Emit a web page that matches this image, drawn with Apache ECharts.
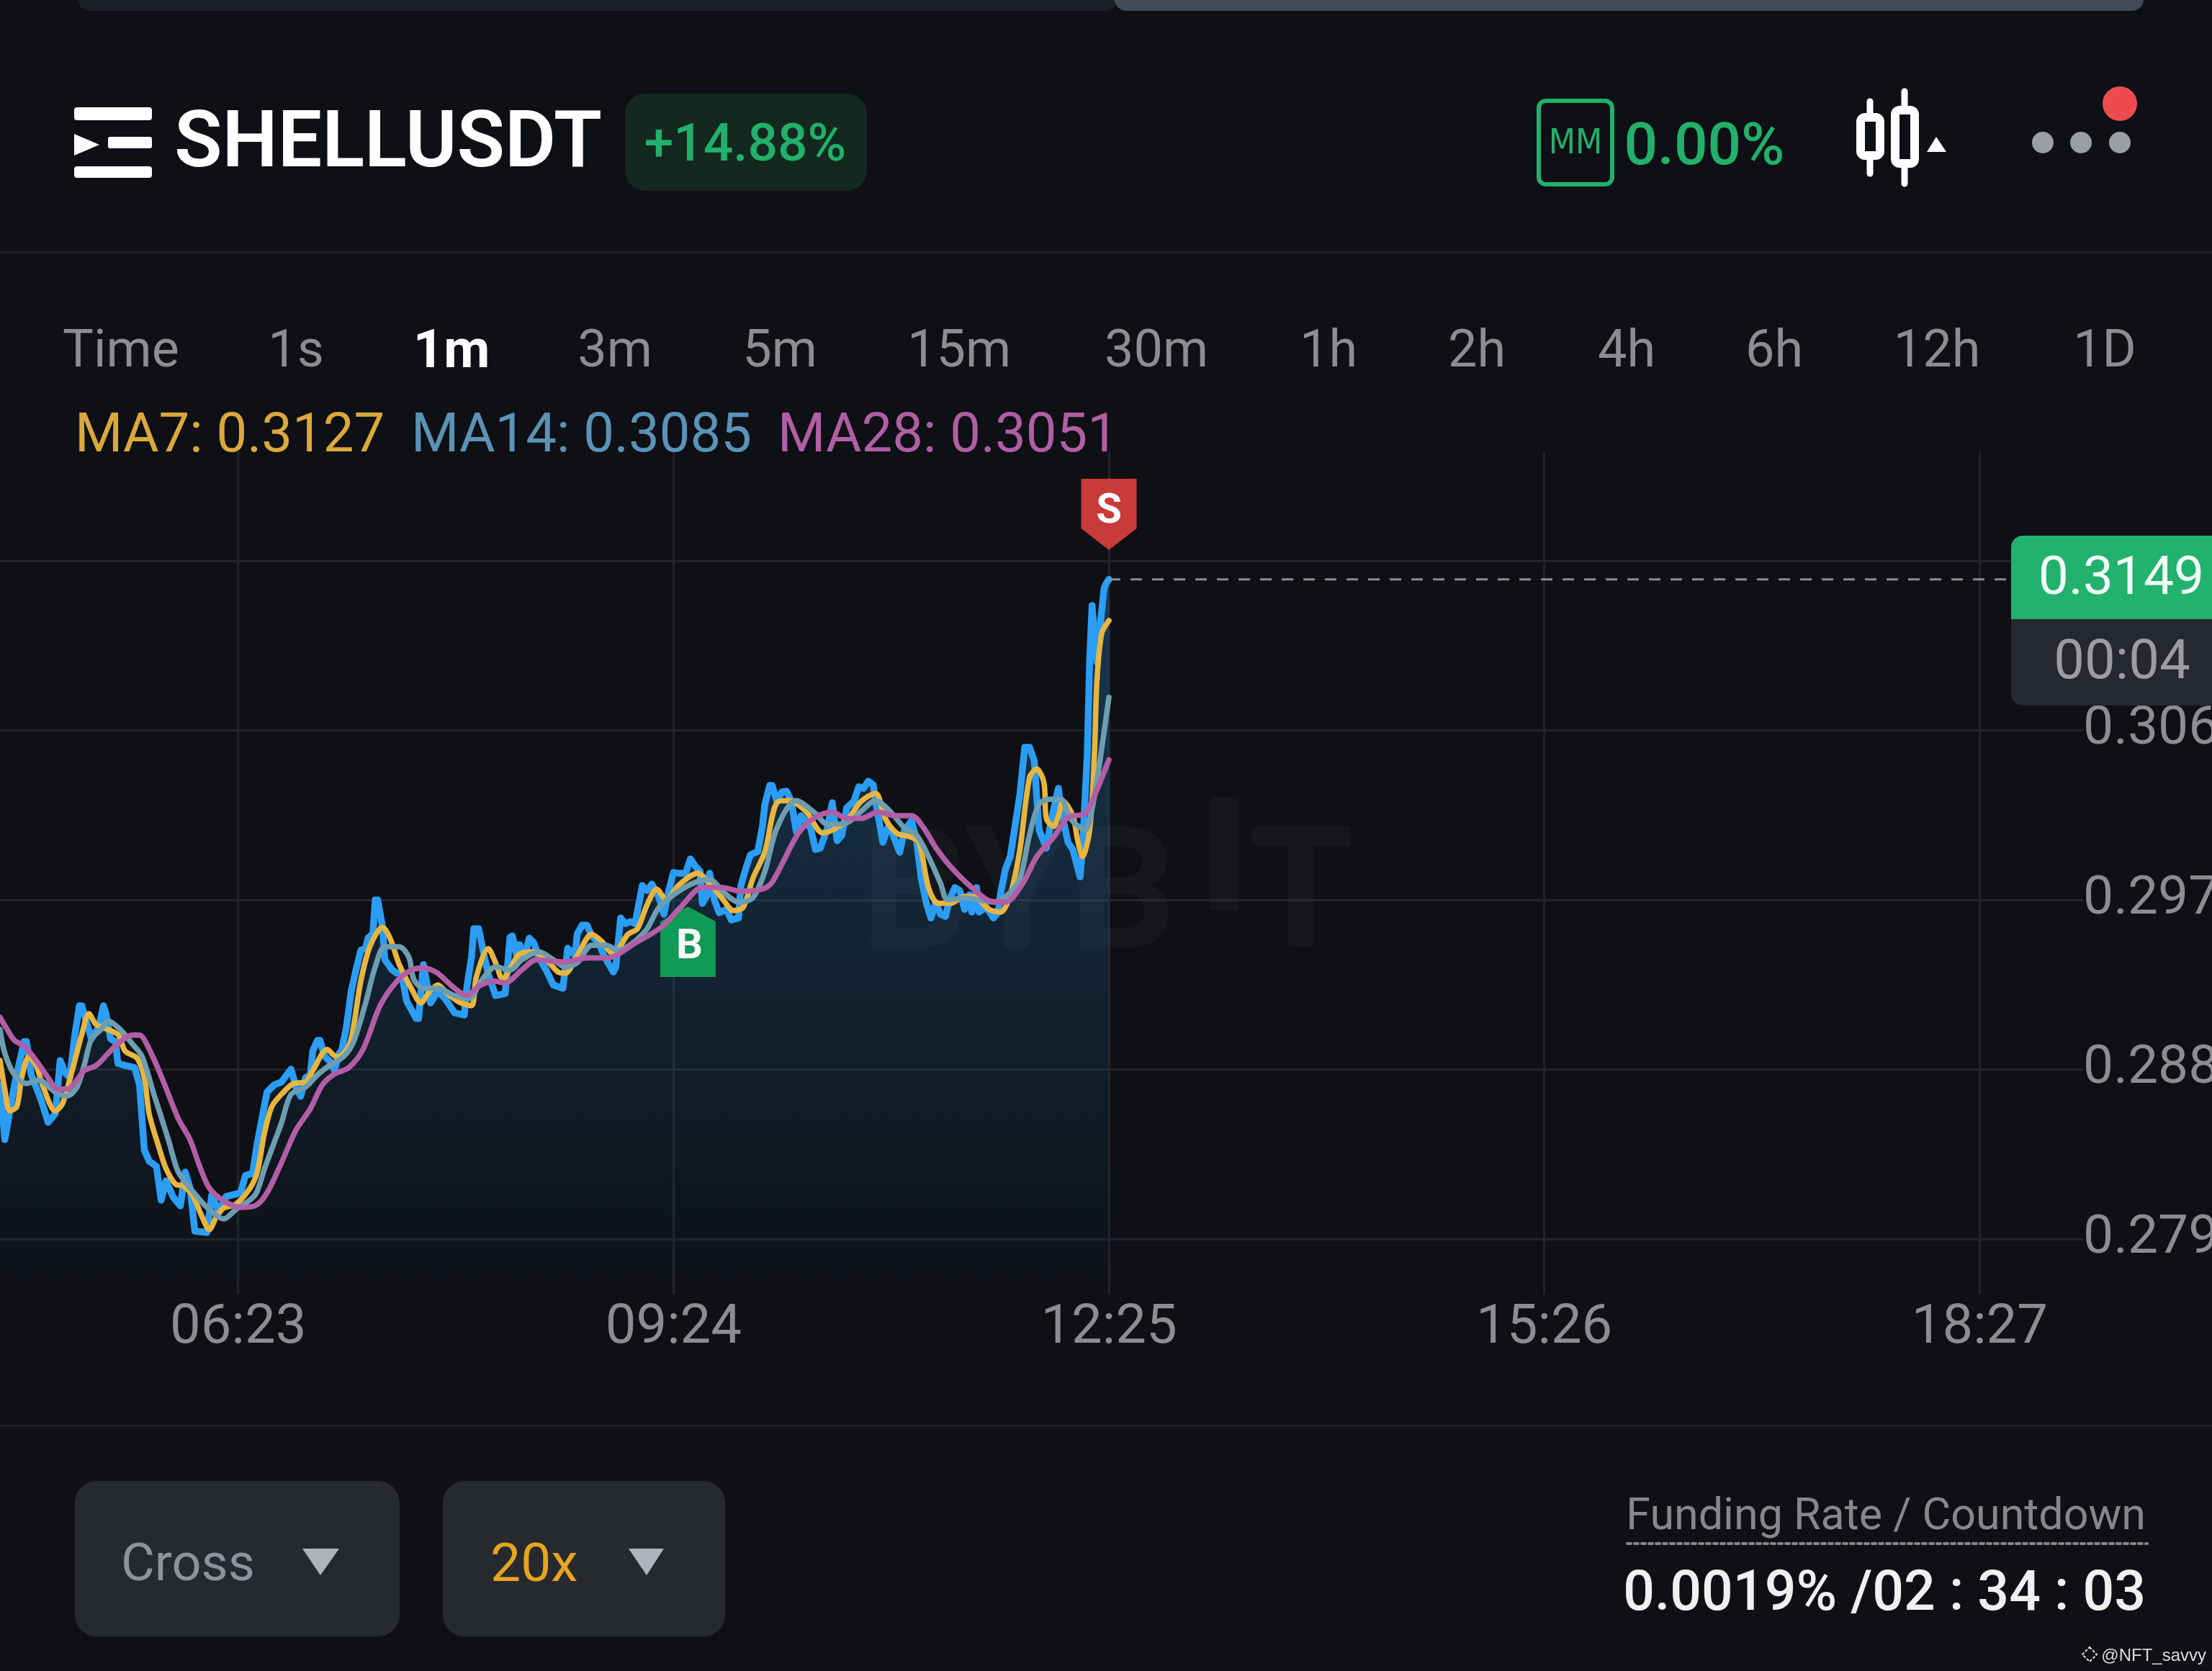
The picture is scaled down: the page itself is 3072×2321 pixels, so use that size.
<!DOCTYPE html>
<html><head><meta charset="utf-8">
<style>html,body{margin:0;padding:0;background:#0e1015}#c{width:3072px;height:2321px}</style>
<script src="https://cdn.jsdelivr.net/npm/echarts@6/dist/echarts.min.js"></script>
</head><body><div id="c"></div>
<script>
// ---- chart values (minute offset from 04:44, and price) ----
const xTickLabels = ['06:23','09:24','12:25','15:26','18:27'];
const yTicks = [0.2791,0.2883,0.2975,0.3067,0.3159];
const lastPrice = 0.3149;
const priceT = [0,2,6,10,11,13,15,17,20,23,25,27,29,31,33,34,36,38,41,43,44,46,48,49,52,56,58,60,62,65,67,69,72,75,77,79,81,86,88,91,94,100,102,105,107,111,114,117,121,123,125,127,129,130,132,133,135,138,139,141,142,144,146,148,150,152,153,155,156,157,159,160,163,165,167,169,173,174,176,177,179,182,185,189,193,194,196,197,199,201,203,206,210,212,213,215,216,218,220,222,224,227,230,234,236,239,240,242,244,246,249,251,255,256,258,260,262,264,267,269,271,274,276,278,280,282,285,287,289,291,292,294,295,297,299,302,304,307,308,310,312,315,317,318,320,321,323,325,327,329,331,333,337,339,341,344,346,348,350,352,355,357,359,361,363,364,366,367,369,371,374,376,379,381,383,385,387,389,391,393,395,397,399,401,403,404,406,407,410,413,415,416,418,420,422,424,426,428,430,431,432,435,437,440,441,444,446,449,450,452,453,454,455,456,457,459,460,461];
const priceV = [0.28746,0.28449,0.28746,0.28981,0.28981,0.28801,0.28734,0.28668,0.28543,0.28590,0.28879,0.28813,0.28785,0.29008,0.29176,0.29176,0.29086,0.28996,0.29059,0.29176,0.29137,0.28996,0.28981,0.28863,0.28852,0.28840,0.28746,0.28394,0.28332,0.28305,0.28121,0.28226,0.28137,0.28090,0.28273,0.28187,0.27953,0.27945,0.28148,0.28058,0.28141,0.28160,0.28254,0.28266,0.28434,0.28707,0.28746,0.28762,0.28832,0.28734,0.28684,0.28785,0.28801,0.28930,0.28988,0.28988,0.28902,0.28863,0.28824,0.28918,0.28930,0.29059,0.29254,0.29371,0.29477,0.29488,0.29543,0.29567,0.29750,0.29750,0.29606,0.29426,0.29371,0.29352,0.29348,0.29203,0.29106,0.29106,0.29399,0.29332,0.29191,0.29254,0.29215,0.29137,0.29125,0.29270,0.29438,0.29594,0.29594,0.29465,0.29348,0.29231,0.29242,0.29547,0.29555,0.29438,0.29508,0.29438,0.29543,0.29516,0.29438,0.29371,0.29289,0.29270,0.29488,0.29449,0.29567,0.29613,0.29613,0.29555,0.29516,0.29449,0.29359,0.29387,0.29652,0.29621,0.29633,0.29621,0.29828,0.29801,0.29836,0.29762,0.29672,0.29801,0.29899,0.29895,0.29895,0.29973,0.29934,0.29906,0.29731,0.29778,0.29895,0.29750,0.29680,0.29699,0.29641,0.29652,0.29828,0.29918,0.29996,0.30012,0.30153,0.30270,0.30371,0.30371,0.30285,0.30336,0.30340,0.30285,0.30121,0.30207,0.30141,0.30024,0.30031,0.30141,0.30278,0.30071,0.30102,0.30250,0.30285,0.30364,0.30356,0.30395,0.30375,0.30285,0.30141,0.30063,0.30141,0.30114,0.30008,0.30129,0.30180,0.30074,0.29867,0.29738,0.29652,0.29738,0.29672,0.29660,0.29762,0.29817,0.29801,0.29699,0.29778,0.29684,0.29817,0.29684,0.29711,0.29652,0.29684,0.29789,0.29918,0.29985,0.30153,0.30324,0.30578,0.30578,0.30504,0.30309,0.30129,0.30031,0.30180,0.30356,0.30246,0.30063,0.30024,0.29875,0.30024,0.30543,0.31055,0.31348,0.31196,0.31040,0.31196,0.31442,0.31470,0.31490];
const ma7T = [0,2,4,7,9,12,15,18,23,26,30,34,37,40,49,52,57,60,62,66,69,73,76,80,84,87,90,93,98,104,107,110,113,117,122,127,130,136,140,143,146,150,154,159,162,166,171,175,178,182,186,191,196,198,203,206,209,213,216,222,227,232,235,240,246,250,255,261,265,269,273,277,282,290,295,300,305,309,313,318,323,328,335,342,346,352,358,364,368,373,378,382,386,390,395,401,406,411,416,420,424,428,431,434,435,438,440,442,446,448,450,453,455,456,458,461];
const ma7V = [0.28879,0.28723,0.28605,0.28629,0.28785,0.28898,0.28852,0.28734,0.28605,0.28645,0.28824,0.29020,0.29133,0.29074,0.29020,0.28930,0.28891,0.28785,0.28590,0.28410,0.28293,0.28207,0.28199,0.28148,0.28031,0.27961,0.28031,0.28078,0.28098,0.28187,0.28277,0.28488,0.28629,0.28695,0.28754,0.28762,0.28824,0.28938,0.28898,0.28918,0.28996,0.29309,0.29504,0.29602,0.29547,0.29399,0.29270,0.29191,0.29242,0.29289,0.29242,0.29195,0.29176,0.29332,0.29485,0.29410,0.29320,0.29399,0.29457,0.29469,0.29426,0.29359,0.29352,0.29449,0.29563,0.29527,0.29457,0.29563,0.29594,0.29723,0.29809,0.29750,0.29828,0.29895,0.29840,0.29762,0.29692,0.29711,0.29867,0.30012,0.30278,0.30289,0.30231,0.30114,0.30129,0.30180,0.30285,0.30328,0.30192,0.30110,0.30094,0.30063,0.29817,0.29731,0.29731,0.29770,0.29762,0.29699,0.29684,0.29778,0.30024,0.30414,0.30461,0.30387,0.30192,0.30149,0.30207,0.30285,0.30207,0.30074,0.29985,0.30129,0.30543,0.30934,0.31196,0.31266];
const ma14T = [0,2,6,11,16,23,28,32,35,38,42,45,50,55,59,64,70,74,79,84,88,93,98,106,110,114,117,121,127,132,137,143,147,152,156,160,166,170,172,176,182,189,195,200,206,212,217,224,230,235,240,246,252,257,263,269,274,280,288,295,301,307,313,318,323,331,339,344,352,358,364,370,376,381,386,391,394,401,407,413,419,424,428,432,437,441,445,451,454,457,461];
const ma14V = [0.29047,0.28918,0.28801,0.28754,0.28773,0.28707,0.28687,0.28734,0.28852,0.28996,0.29047,0.29094,0.29047,0.28969,0.28902,0.28695,0.28449,0.28277,0.28187,0.28109,0.28058,0.28019,0.28070,0.28148,0.28293,0.28434,0.28539,0.28695,0.28734,0.28801,0.28852,0.28902,0.28981,0.29191,0.29387,0.29496,0.29496,0.29438,0.29320,0.29270,0.29270,0.29231,0.29215,0.29309,0.29387,0.29369,0.29426,0.29469,0.29426,0.29387,0.29410,0.29504,0.29504,0.29477,0.29516,0.29594,0.29711,0.29778,0.29840,0.29860,0.29789,0.29738,0.29762,0.29906,0.30141,0.30289,0.30219,0.30160,0.30168,0.30231,0.30289,0.30231,0.30141,0.30102,0.29985,0.29840,0.29750,0.29762,0.29750,0.29738,0.29778,0.29867,0.30102,0.30270,0.30297,0.30297,0.30192,0.30129,0.30246,0.30481,0.30850];
const ma28T = [0,3,6,10,15,20,24,28,32,35,40,45,50,55,58,62,68,74,79,83,87,93,100,106,111,117,123,129,134,139,145,151,158,165,171,176,182,188,194,199,205,210,217,223,229,235,244,251,256,264,275,283,292,300,308,317,321,332,339,346,352,358,365,372,379,384,389,395,404,412,418,425,431,438,444,451,456,461];
const ma28V = [0.29113,0.29047,0.28988,0.28957,0.28879,0.28785,0.28723,0.28723,0.28773,0.28824,0.28852,0.28918,0.28981,0.29016,0.29016,0.28941,0.28762,0.28566,0.28449,0.28305,0.28187,0.28117,0.28082,0.28090,0.28160,0.28324,0.28500,0.28617,0.28746,0.28805,0.28840,0.28941,0.29176,0.29309,0.29369,0.29381,0.29352,0.29281,0.29231,0.29281,0.29309,0.29301,0.29371,0.29426,0.29418,0.29414,0.29435,0.29435,0.29449,0.29516,0.29602,0.29711,0.29817,0.29817,0.29797,0.29809,0.29846,0.30114,0.30199,0.30227,0.30192,0.30192,0.30227,0.30207,0.30207,0.30141,0.30035,0.29934,0.29817,0.29742,0.29738,0.29836,0.29985,0.30090,0.30199,0.30219,0.30348,0.30510];
const tabs = ['Time','1s','1m','3m','5m','15m','30m','1h','2h','4h','6h','12h','1D'];
const maLegend = ['MA7: 0.3127','MA14: 0.3085','MA28: 0.3051'];

// ---- categories: one per minute starting 04:44 ----
const startMinute = 284, minuteCount = 867;
const categories = [];
for (let i = 0; i < minuteCount; i++) {
  const m = startMinute + i;
  categories.push(String(Math.floor(m/60)).padStart(2,'0') + ':' + String(m%60).padStart(2,'0'));
}
const isTick = (i, v) => xTickLabels.includes(v);
const zip = (t, v) => t.map((x, i) => [x, v[i]]);

const FONT = 'Roboto, sans-serif';
const GREEN = '#22b06b', BG = '#0e1015', GREY = '#8b8d92';
const txt = (text, x, y, size, fill, opt = {}) => ({
  type:'text', z:100, silent:true,
  style:{ text, x, y, fill, font:`${opt.weight||400} ${size}px ${opt.family||FONT}`, textAlign:opt.align||'center', textVerticalAlign:'middle' }
});
const box = (x, y, w, h, r, fill) => ({ type:'rect', z:90, silent:true, shape:{x,y,width:w,height:h,r}, style:{fill} });
const poly = (points, fill) => ({ type:'polygon', z:95, silent:true, shape:{points}, style:{fill} });
const seg = (x1,y1,x2,y2,stroke,lineWidth,dash) => ({ type:'line', z:92, silent:true, shape:{x1,y1,x2,y2}, style:{stroke,lineWidth,lineDash:dash||null,lineCap:'round'} });
const outline = (x,y,w,h,r,stroke,lineWidth) => ({ type:'rect', z:95, silent:true, shape:{x,y,width:w,height:h,r}, style:{fill:'none',stroke,lineWidth} });
const circ = (cx,cy,r,fill) => ({ type:'circle', z:95, silent:true, shape:{cx,cy,r}, style:{fill} });

const tabCenters = [168,411,627,854,1083,1332,1606,1845,2051,2259,2464,2690,2923];

const elements = [
  // top scroll strip
  box(108,-20,1443,35,16,'#1b1e24'),
  box(1548,-20,1429,35,16,'#434b58'),
  // logo
  box(103,149,108,18,4,'#fff'), box(150,190,61,16,3,'#fff'), box(103,231,108,16,4,'#fff'),
  poly([[103,186],[138,201],[103,216]],'#fff'),
  txt('SHELLUSDT',242,204,109,'#ffffff',{align:'left',weight:600}),
  box(868,130,336,135,28,'#13291f'),
  txt('+14.88%',1035,205,73,GREEN,{weight:500}),
  // MM
  outline(2137,140,102,116,10,GREEN,6),
  txt('MM',2188,201,48,GREEN,{family:'"DejaVu Sans Condensed", Roboto'}),
  txt('0.00%',2367,207,82,GREEN,{weight:500}),
  // candle icon
  seg(2597,141,2597,157,'#fff',9), seg(2597,222,2597,241,'#fff',9), outline(2584,163,27,53,6,'#fff',12),
  seg(2645,127,2645,147,'#fff',9), seg(2645,233,2645,255,'#fff',9), outline(2632,153,27,74,6,'#fff',12),
  poly([[2689,190],[2703,211],[2676,211]],'#fff'),
  // dots
  circ(2837,198,15,'#9a9ea8'), circ(2890,198,15,'#9a9ea8'), circ(2944,198,15,'#9a9ea8'),
  circ(2944,144,24,'#ee4b50'),
  // dividers
  box(0,349,3072,3,0,'#1d1f25'),
  box(0,1979,3072,3,0,'#1d1f25'),
  // MA legend
  txt(maLegend[0],104,608,76,'#dba93b',{align:'left'}),
  txt(maLegend[1],571,608,76,'#5b93b5',{align:'left'}),
  txt(maLegend[2],1080,608,76,'#b05fa4',{align:'left'}),
  // price tag
  box(2793,744,290,116,[16,0,0,0],'#22b26e'),
  txt('0.3149',2946,806,75,'#f0fff7'),
  box(2793,860,290,120,[0,0,0,16],'#25282e'),
  txt('00:04',2947,923,76,'#9a9c9f'),
  // bottom controls
  box(104,2057,451,216,30,'#26292e'),
  txt('Cross',168,2177,72,'#90929a',{align:'left'}),
  poly([[420,2151],[471,2151],[445,2188]],'#b0b3bb'),
  box(615,2057,392,216,30,'#26292e'),
  txt('20x',681,2177,75,'#e6a520',{align:'left'}),
  poly([[873,2151],[922,2151],[898,2188]],'#b0b3bb'),
  txt('Funding Rate / Countdown',2980,2109,61,'#85878c',{align:'right'}),
  seg(2260,2144,2982,2144,'#85878c',4,[5,5]),
  txt('0.0019% /02 : 34 : 03',2980,2217,77,'#f0f0f0',{align:'right',weight:500}),
  // credit
  txt('@NFT_savvy',3064,2300,24,'#dddddd',{align:'right',family:'"Liberation Sans", sans-serif'}),
  { type:'polygon', z:95, silent:true, shape:{points:[[2902,2288],[2912,2298],[2902,2308],[2892,2298]]}, style:{fill:'none',stroke:'#dddddd',lineWidth:2,lineDash:[4,2]} },
  // exchange watermark
  { type:'text', z:3, silent:true, style:{text:'BYB',x:1195,y:1257,fill:'rgba(255,255,255,0.03)',font:'700 235px Roboto',textAlign:'left',textVerticalAlign:'middle'} },
  { type:'rect', z:3, silent:true, shape:{x:1681,y:1107,width:39,height:157}, style:{fill:'rgba(255,255,255,0.03)'} },
  { type:'text', z:3, silent:true, style:{text:'T',x:1734,y:1257,fill:'rgba(255,255,255,0.03)',font:'700 235px Roboto',textAlign:'left',textVerticalAlign:'middle'} },
];
tabs.forEach((t,i) => {
  const on = t === '1m';
  elements.push(txt(t,tabCenters[i],491,on?74:72,on?'#ffffff':GREY,{weight:on?700:400}));
});

const chart = echarts.init(document.getElementById('c'), null, {renderer:'canvas', width:3072, height:2321});
const lineSeries = (name, data, color, width, smooth) => ({
  name, type:'line', data, showSymbol:false, smooth, animation:false, silent:true,
  lineStyle:{color, width, join:'round', cap:'round'}, itemStyle:{color}
});
const shield = 'path://M0,0 L77,0 L77,69 L38.5,99 L0,69 Z';
const house = 'path://M38.5,0 L77,21 L77,98 L0,98 L0,21 Z';

chart.setOption({
  backgroundColor: BG,
  animation:false,
  grid:{ left:0, top:627, width:2893, height:1171, containLabel:false, outerBoundsMode:'none' },
  xAxis:{
    type:'category', data:categories, boundaryGap:false,
    axisLine:{show:false},
    axisTick:{show:false, interval:isTick},
    axisLabel:{ interval:isTick, color:GREY, fontSize:76, fontFamily:'Roboto', margin:10, hideOverlap:false },
    splitLine:{ show:true, interval:isTick, lineStyle:{color:'#212429',width:3} }
  },
  yAxis:{
    type:'value', position:'right', min:0.27609, max:0.32184, scale:true,
    axisLine:{show:false},
    axisTick:{show:false, customValues:yTicks},
    axisLabel:{ customValues:yTicks, color:GREY, fontSize:75, fontFamily:'Roboto', margin:0, align:'left', padding:[0,0,4,0], formatter:v=>Number(v).toFixed(4), hideOverlap:false },
    splitLine:{ show:true, lineStyle:{color:'#212429',width:3} }
  },
  graphic:{ elements },
  series:[
    Object.assign(lineSeries('Price', zip(priceT,priceV), '#2b9df4', 9.5, false), {
      z:4,
      areaStyle:{ origin:'start', opacity:1, color:new echarts.graphic.LinearGradient(0,0,0,1,[
        {offset:0,color:'rgba(45,140,210,0.32)'},{offset:1,color:'rgba(45,140,210,0)'}]) },
      markPoint:{
        silent:true, animation:false,
        data:[
          { name:'S', coord:[461,0.31842], symbol:shield, symbolSize:[77,99], itemStyle:{color:'#c93a3a'},
            label:{show:true,formatter:'S',color:'#fff',fontSize:58,fontWeight:700,fontFamily:'Roboto',offset:[0,-3]} },
          { name:'B', coord:[286,0.29523], symbol:house, symbolSize:[77,98], itemStyle:{color:'#0f9a55'},
            label:{show:true,formatter:'B',color:'#fff',fontSize:58,fontWeight:700,fontFamily:'Roboto',offset:[2,8]} }
        ]
      }
    }),
    Object.assign(lineSeries('Last', [[461,lastPrice],[837,lastPrice]], '#8a8d92', 3, false), {
      z:5, lineStyle:{color:'#8a8d92',width:3,type:[16,14]}
    }),
    Object.assign(lineSeries('MA7', zip(ma7T,ma7V), '#e8b53f', 7.5, 0.3), {z:6}),
    Object.assign(lineSeries('MA14', zip(ma14T,ma14V), '#6d9db0', 7.5, 0.3), {z:7}),
    Object.assign(lineSeries('MA28', zip(ma28T,ma28V), '#b25ea6', 7.5, 0.3), {z:8})
  ]
});
</script></body></html>
